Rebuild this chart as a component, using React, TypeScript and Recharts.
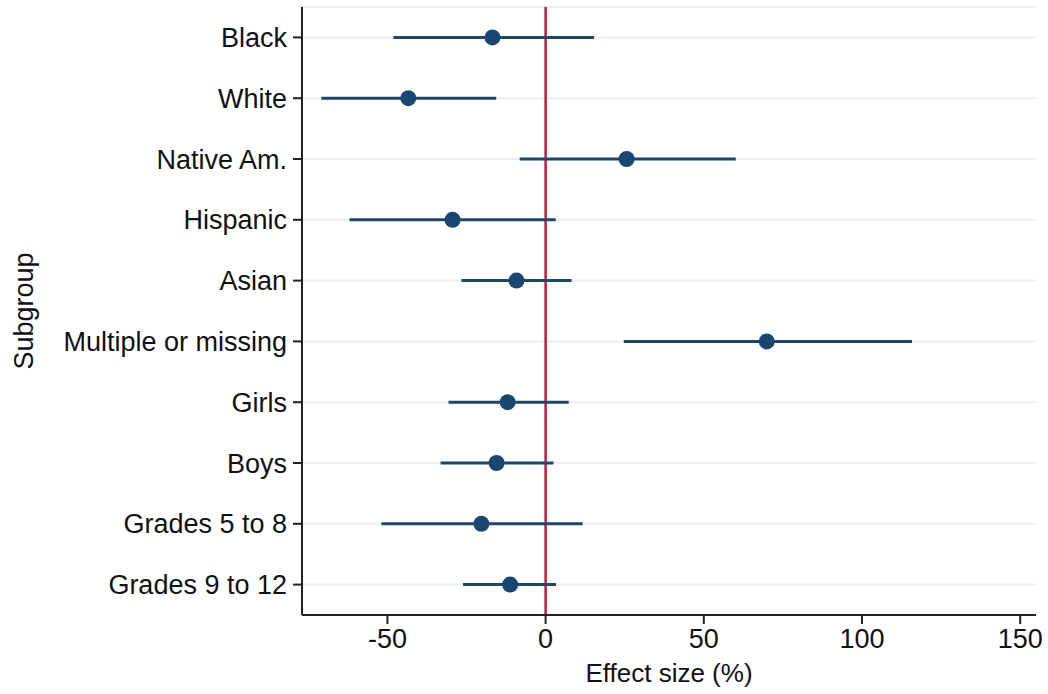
import { ScatterChart, Scatter, XAxis, YAxis, CartesianGrid, ErrorBar, ReferenceLine } from 'recharts';

const subgroups = [
  'Black',
  'White',
  'Native Am.',
  'Hispanic',
  'Asian',
  'Multiple or missing',
  'Girls',
  'Boys',
  'Grades 5 to 8',
  'Grades 9 to 12',
];
const estimates = [-16.8, -43.4, 25.6, -29.4, -9.2, 69.9, -12.0, -15.5, -20.3, -11.2];
const lower = [-48.1, -70.9, -8.2, -62.0, -26.6, 24.7, -30.7, -33.2, -51.9, -26.1];
const upper = [15.3, -15.6, 60.1, 3.2, 8.2, 115.8, 7.3, 2.5, 11.7, 3.3];
const xTicks = [-50, 0, 50, 100, 150];

const data = subgroups.map((name, i) => ({
  name,
  pos: i + 1,
  est: estimates[i],
  err: [estimates[i] - lower[i], upper[i] - estimates[i]],
}));

const NAVY = '#1a476f';
const FONT = '"Liberation Sans", Arial, Helvetica, sans-serif';

const Dot = (props: any) => <circle cx={props.cx} cy={props.cy} r={8} fill={NAVY} />;

export default function App() {
  return (
    <div style={{ position: 'absolute', left: 0, top: 0, background: '#fff' }}>
      <ScatterChart
        width={1048}
        height={694}
        margin={{ top: 7, right: 12, bottom: 0, left: 0 }}
        style={{ fontFamily: FONT }}
      >
        <CartesianGrid horizontal vertical={false} stroke="#e9eff2" strokeWidth={2} />
        <XAxis
          type="number"
          dataKey="est"
          domain={[-77, 155]}
          ticks={xTicks}
          allowDataOverflow
          height={79}
          tickSize={9}
          tickMargin={5}
          stroke="#222"
          strokeWidth={2}
          tick={{ fill: '#111', fontSize: 27 }}
          label={{ value: 'Effect size (%)', position: 'insideBottom', offset: 12, fill: '#111', fontSize: 26 }}
        />
        <YAxis
          type="number"
          dataKey="pos"
          domain={[0.5, 10.5]}
          reversed
          ticks={data.map((d) => d.pos)}
          tickFormatter={(v: number) => subgroups[v - 1] ?? ''}
          width={302}
          tickSize={9}
          tickMargin={6}
          stroke="#222"
          strokeWidth={2}
          tick={{ fill: '#111', fontSize: 27 }}
          label={{ value: 'Subgroup', angle: -90, position: 'center', dx: -128, fill: '#111', fontSize: 27 }}
        />
        <ReferenceLine x={0} stroke="#c8193a" strokeWidth={2.5} />
        <Scatter data={data} shape={Dot} isAnimationActive={false}>
          <ErrorBar dataKey="err" direction="x" width={0} stroke={NAVY} strokeWidth={3} />
        </Scatter>
      </ScatterChart>
    </div>
  );
}
